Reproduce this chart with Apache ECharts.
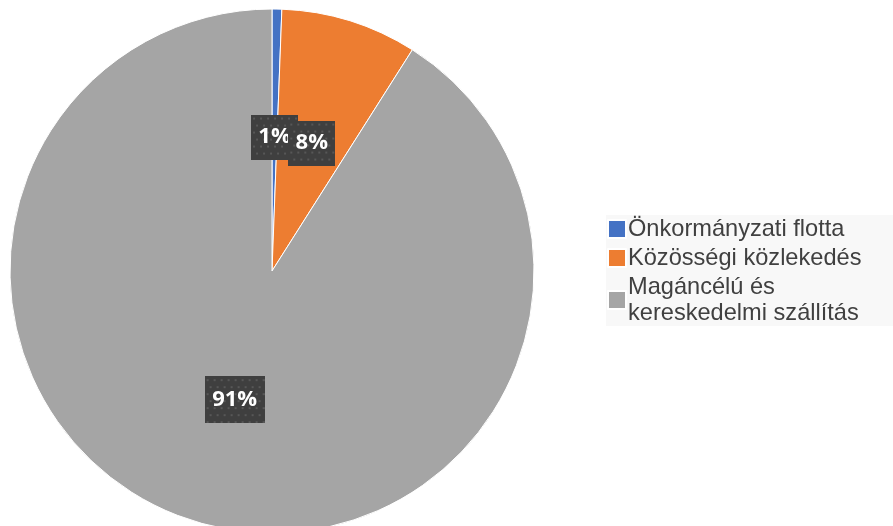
<!DOCTYPE html>
<html>
<head>
    <meta charset="utf-8">
    <title></title>
    <script src="https://cdn.jsdelivr.net/npm/echarts@6/dist/echarts.min.js"></script>
    <style>
        html, body { margin: 0; padding: 0; background: #fff; }
        #chart { width: 893px; height: 526px; }
    </style>
</head>
<body>
    <div id="chart"></div>
    <script>
    var categories = ["Önkormányzati flotta", "Közösségi közlekedés", "Magáncélú és kereskedelmi szállítás"];
    var values = [0.6, 8.4, 91.0];
    var labels = ["1%", "8%", "91%"];
    var colors = ["#4472C4", "#ED7D31", "#A5A5A5"];

    // dotted dark label background like the original
    function dotted(w, h) {
        var c = document.createElement("canvas");
        c.width = w; c.height = h;
        var g = c.getContext("2d");
        g.fillStyle = "#3f3f3f";
        g.fillRect(0, 0, w, h);
        g.fillStyle = "#575757";
        for (var row = 0, y = 3; y < h; y += 7, row++) {
            for (var x = (row % 2 ? 5 : 1.5); x < w; x += 7) {
                g.fillRect(Math.round(x), y, 2, 2);
            }
        }
        return c;
    }

    var boxW = [47, 47, 60], boxH = [45, 45, 47];
    var data = categories.map(function(name, i) {
        return {
            name: name,
            value: values[i],
            itemStyle: { color: colors[i] },
            label: {
                formatter: labels[i],
                width: boxW[i],
                height: boxH[i],
                lineHeight: boxH[i],
                backgroundColor: { image: dotted(boxW[i], boxH[i]) }
            }
        };
    });

    var chart = echarts.init(document.getElementById("chart"));
    chart.setOption({
        animation: false,
        legend: {
            orient: "vertical",
            left: 606,
            top: 215,
            padding: [1, 60, 0, 1],
            backgroundColor: "#f8f8f8",
            icon: "rect",
            itemWidth: 18,
            itemHeight: 18,
            itemGap: 3,
            textStyle: {
                fontFamily: "Liberation Sans",
                fontSize: 23.6,
                lineHeight: 26,
                color: "#404040",
                padding: [0, 0, 0, -3]
            },
            formatter: function(n) {
                return n === categories[2] ? "Magáncélú és\nkereskedelmi szállítás" : n;
            },
            data: categories
        },
        series: [{
            type: "pie",
            center: [272, 271],
            radius: 262,
            startAngle: 90,
            clockwise: true,
            itemStyle: { borderColor: "#fff", borderWidth: 1 },
            labelLayout: { hideOverlap: false },
            label: {
                show: true,
                position: "inside",
                color: "#fff",
                fontFamily: "Open Sans",
                fontWeight: "bold",
                fontSize: 22,
                align: "center"
            },
            labelLine: { show: false },
            emphasis: { disabled: true },
            data: data
        }]
    });
    </script>
</body>
</html>
